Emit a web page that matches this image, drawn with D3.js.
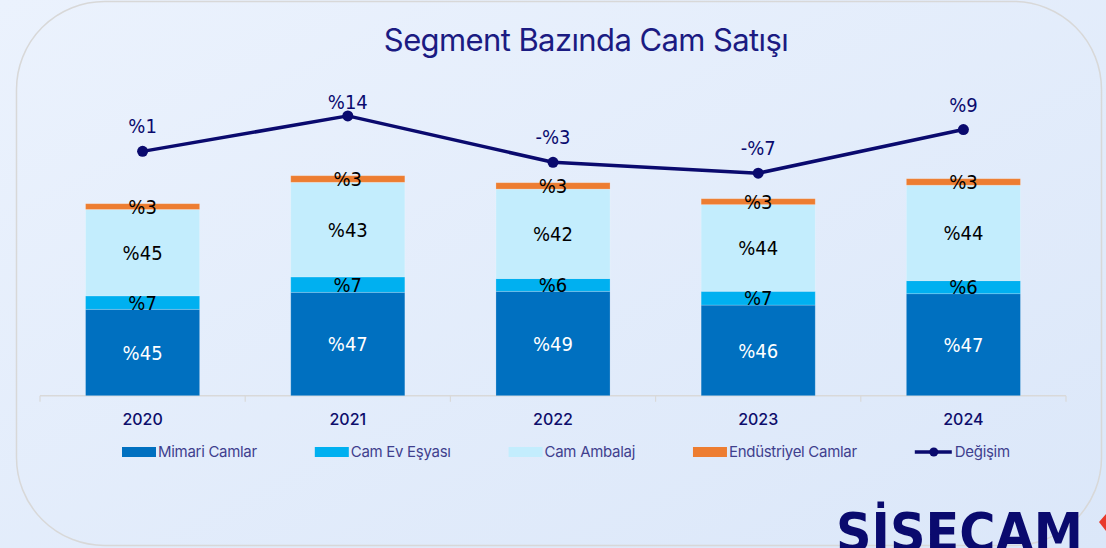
<!DOCTYPE html>
<html>
<head>
<meta charset="utf-8">
<title>Segment Bazında Cam Satışı</title>
<style>
  body { margin: 0; padding: 0; background: #e4edfa; }
  svg { display: block; }
  .title { font-family: Inter, 'Noto Sans', sans-serif; font-size: 31px; fill: #1b1b82; letter-spacing: -0.6px; }
  .year { font-family: Inter, 'Noto Sans', sans-serif; font-size: 16px; font-weight: 500; fill: #0d0d6b; }
  .seg-label { font-family: 'DejaVu Sans Condensed', 'DejaVu Sans', sans-serif; font-size: 20px; text-anchor: middle; }
  .chg-label { font-family: 'DejaVu Sans Condensed', 'DejaVu Sans', sans-serif; font-size: 20px; text-anchor: middle; fill: #0a0a6e; }
  .legend text { font-family: Inter, 'Noto Sans', sans-serif; font-size: 15px; fill: #3f3f8e; letter-spacing: -0.3px; }
</style>
</head>
<body>
<div id="chart"></div>
<script src="https://d3js.org/d3.v7.min.js"></script>
<script>
// years on the x axis
const years = ['2020', '2021', '2022', '2023', '2024'];

// total glass sales per year (index units)
const totalSales = [192, 220, 213, 197, 217];

// segment shares, % of each year's total
const mimariCamlar = [45, 47, 49, 46, 47];
const camEvEsyasi = [7, 7, 6, 7, 6];
const camAmbalaj = [45, 43, 42, 44, 44];
const endustriyelCamlar = [3, 3, 3, 3, 3];

// yearly change, %
const degisim = [1, 14, -3, -7, 9];

const segments = [
  { key: 'mimari', name: 'Mimari Camlar', shares: mimariCamlar, color: '#0070c0', text: '#ffffff' },
  { key: 'ev', name: 'Cam Ev Eşyası', shares: camEvEsyasi, color: '#00b0f0', text: '#000000' },
  { key: 'ambalaj', name: 'Cam Ambalaj', shares: camAmbalaj, color: '#c3edfd', text: '#000000' },
  { key: 'endustri', name: 'Endüstriyel Camlar', shares: endustriyelCamlar, color: '#ed7d31', text: '#000000' },
];

const W = 1106, H = 548;
const navy = '#0a0a6e';

const svg = d3.select('#chart').append('svg')
  .attr('width', W)
  .attr('height', H);

// background gradient
const defs = svg.append('defs');
const grad = defs.append('linearGradient')
  .attr('id', 'bg')
  .attr('x1', 0).attr('y1', 0).attr('x2', 1).attr('y2', 1);
grad.append('stop').attr('offset', 0).attr('stop-color', '#ebf2fd');
grad.append('stop').attr('offset', 1).attr('stop-color', '#dbe7f9');

svg.append('rect')
  .attr('width', W).attr('height', H)
  .attr('fill', 'url(#bg)');

// rounded panel
svg.append('rect')
  .attr('x', 16.5).attr('y', 1.5)
  .attr('width', 1085).attr('height', 544)
  .attr('rx', 88).attr('ry', 88)
  .attr('fill', 'none')
  .attr('stroke', '#d8d8d8')
  .attr('stroke-width', 1.5);

svg.append('text')
  .attr('class', 'title')
  .attr('x', 586).attr('y', 51)
  .attr('text-anchor', 'middle')
  .text('Segment Bazında Cam Satışı');

// scales
const x = d3.scaleBand()
  .domain(years)
  .range([40, 1066])
  .paddingInner(0.444)
  .paddingOuter(0.222);

const y = d3.scaleLinear()
  .domain([0, 300])
  .range([395.7, 95.7]);

const yChg = d3.scaleLinear()
  .domain([-20, 20])
  .range([154.1 + 54.6, 154.1 - 54.6]);

// stack data: absolute segment values per year
const table = years.map((yr, i) => {
  const row = { year: yr };
  segments.forEach(s => { row[s.key] = totalSales[i] * s.shares[i] / 100; });
  return row;
});

const stack = d3.stack().keys(segments.map(s => s.key));
const series = stack(table);

// axis line with boundary ticks
const axisG = svg.append('g')
  .attr('transform', `translate(0,${y(0)})`);

axisG.append('line')
  .attr('x1', x.range()[0]).attr('x2', x.range()[1])
  .attr('stroke', '#d9d9d9').attr('stroke-width', 1.5);

const gap = (x.step() - x.bandwidth()) / 2;
const bounds = years.map(d => x(d) - gap).concat([x.range()[1]]);
axisG.selectAll('.bound')
  .data(bounds)
  .enter().append('line')
  .attr('x1', d => d).attr('x2', d => d)
  .attr('y1', 0).attr('y2', 6)
  .attr('stroke', '#d9d9d9').attr('stroke-width', 1.2);

const xAxis = svg.append('g')
  .attr('transform', `translate(0,${y(0)})`)
  .call(d3.axisBottom(x).tickSize(0).tickPadding(18));
xAxis.select('.domain').remove();
xAxis.selectAll('text').attr('class', 'year').attr('fill', null);

// bars
const layers = svg.append('g')
  .selectAll('g')
  .data(series)
  .enter().append('g')
  .attr('fill', (d, i) => segments[i].color);

layers.selectAll('rect')
  .data(d => d)
  .enter().append('rect')
  .attr('x', d => x(d.data.year))
  .attr('width', x.bandwidth())
  .attr('y', d => y(d[1]))
  .attr('height', d => y(d[0]) - y(d[1]))
  .attr('stroke', 'rgba(255,255,255,0.25)')
  .attr('stroke-width', 0.8);

// segment share labels
series.forEach((s, si) => {
  svg.append('g')
    .selectAll('text')
    .data(s)
    .enter().append('text')
    .attr('class', 'seg-label')
    .attr('x', d => x(d.data.year) + x.bandwidth() / 2)
    .attr('y', d => (y(d[0]) + y(d[1])) / 2)
    .attr('dy', '0.36em')
    .attr('fill', segments[si].text)
    .text((d, i) => '%' + segments[si].shares[i]);
});

// change line
const pts = years.map((yr, i) => ({ year: yr, v: degisim[i] }));
const line = d3.line()
  .x(d => x(d.year) + x.bandwidth() / 2)
  .y(d => yChg(d.v));

svg.append('path')
  .datum(pts)
  .attr('d', line)
  .attr('fill', 'none')
  .attr('stroke', navy)
  .attr('stroke-width', 3.5)
  .attr('stroke-linejoin', 'round');

svg.append('g')
  .selectAll('circle')
  .data(pts)
  .enter().append('circle')
  .attr('cx', d => x(d.year) + x.bandwidth() / 2)
  .attr('cy', d => yChg(d.v))
  .attr('r', 5.5)
  .attr('fill', navy);

svg.append('g')
  .selectAll('text')
  .data(pts)
  .enter().append('text')
  .attr('class', 'chg-label')
  .attr('x', d => x(d.year) + x.bandwidth() / 2)
  .attr('y', d => Math.max(yChg(d.v) - 18, 109))
  .text(d => (d.v < 0 ? '-%' : '%') + Math.abs(d.v));

// legend
const legend = svg.append('g').attr('class', 'legend');
const legendItems = segments.map(s => ({ name: s.name, color: s.color, type: 'bar' }))
  .concat([{ name: 'Değişim', color: navy, type: 'line' }]);

let lx = 122;
const ly = 452;
legendItems.forEach(item => {
  const g = legend.append('g').attr('transform', `translate(${lx},${ly})`);
  if (item.type === 'bar') {
    g.append('rect')
      .attr('x', 0).attr('y', -5)
      .attr('width', 34).attr('height', 10)
      .attr('fill', item.color);
  } else {
    g.append('line')
      .attr('x1', 0).attr('x2', 37)
      .attr('stroke', item.color).attr('stroke-width', 3.5);
    g.append('circle')
      .attr('cx', 19).attr('r', 4.5)
      .attr('fill', item.color);
  }
  const t = g.append('text')
    .attr('x', item.type === 'bar' ? 36 : 40)
    .attr('dy', '0.35em')
    .text(item.name);
  lx += (item.type === 'bar' ? 36 : 40) + t.node().getComputedTextLength() + 58;
});

// logo
svg.append('text')
  .attr('x', 836).attr('y', 551)
  .attr('font-family', "'DejaVu Sans', sans-serif")
  .attr('font-weight', 'bold')
  .attr('font-size', 54)
  .attr('textLength', 247)
  .attr('lengthAdjust', 'spacingAndGlyphs')
  .attr('fill', navy)
  .text('ŞİŞECAM');

svg.append('path')
  .attr('d', 'M1099,522 L1106,514 L1106,531 Z')
  .attr('fill', '#e8392b');
</script>
</body>
</html>
